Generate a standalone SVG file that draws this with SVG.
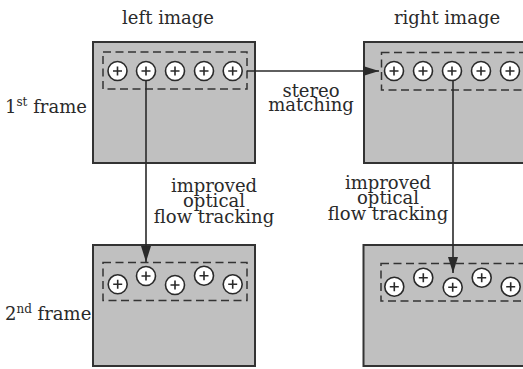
<svg xmlns="http://www.w3.org/2000/svg" width="523" height="369" viewBox="0 0 523 369">
<defs>
<style>
.box{fill:#c0c0c0;stroke:#333;stroke-width:2}
.dash{fill:none;stroke:#333;stroke-width:1.5;stroke-dasharray:8 4.5}
.pt circle{fill:#fff;stroke:#2a2a2a;stroke-width:1.6}
.pt path{stroke:#2a2a2a;stroke-width:1.6;fill:none}
.lbl{font-family:"DejaVu Serif","Liberation Serif",serif;font-size:18px;fill:#2a2a2a}
.mid{text-anchor:middle}
.conn{stroke:#2a2a2a;stroke-width:1.6;fill:none;marker-end:url(#ah)}
</style>
<marker id="ah" viewBox="0 0 16 10" refX="16" refY="5" markerWidth="16" markerHeight="10" markerUnits="userSpaceOnUse" orient="auto">
<path d="M0,0 L16,5 L0,10 Z" fill="#2a2a2a"/>
</marker>
<g id="p" class="pt"><circle r="9.5"/><path d="M-4.5,0 H4.5 M0,-4.5 V4.5"/></g>
</defs>
<rect width="523" height="369" fill="#fff"/>
<text class="lbl mid" x="168" y="24">left image</text>
<text class="lbl mid" x="447" y="24">right image</text>
<text class="lbl" x="5" y="113">1<tspan font-size="12" dy="-7">st</tspan><tspan dy="7"> frame</tspan></text>
<text class="lbl" x="5" y="320">2<tspan font-size="12" dy="-7">nd</tspan><tspan dy="7"> frame</tspan></text>
<g id="left1">
<rect class="box" x="93" y="42" width="162" height="121"/>
<rect class="dash" x="103" y="52" width="144" height="37"/>
<use href="#p" x="117.5" y="71"/><use href="#p" x="146" y="71"/><use href="#p" x="175" y="71"/><use href="#p" x="204" y="71"/><use href="#p" x="232.7" y="71"/>
</g>
<g id="right1">
<rect class="box" x="364" y="42" width="170" height="121"/>
<rect class="dash" x="381.5" y="52.5" width="145" height="37.5"/>
<use href="#p" x="394" y="71"/><use href="#p" x="423" y="71"/><use href="#p" x="452" y="71"/><use href="#p" x="481" y="71"/><use href="#p" x="510" y="71"/>
</g>
<g id="left2">
<rect class="box" x="93" y="245" width="162" height="121"/>
<rect class="dash" x="103" y="262.5" width="144" height="38"/>
<use href="#p" x="117.7" y="284.3"/><use href="#p" x="146" y="276"/><use href="#p" x="175" y="285"/><use href="#p" x="204" y="275.7"/><use href="#p" x="232.7" y="284.3"/>
</g>
<g id="right2">
<rect class="box" x="363.5" y="245" width="170" height="121"/>
<rect class="dash" x="381" y="263.5" width="145" height="37.5"/>
<use href="#p" x="394.3" y="286.7"/><use href="#p" x="423.3" y="277.7"/><use href="#p" x="452.7" y="287.3"/><use href="#p" x="481.7" y="277.7"/><use href="#p" x="510.7" y="286.7"/>
</g>
<g id="connectors">
<path class="conn" d="M146,80.5 V262"/>
<path class="conn" d="M247,71 H379"/>
<path class="conn" d="M453,80.5 V273"/>
</g>
<text class="lbl mid" x="311" y="96.5">stereo</text>
<text class="lbl mid" x="311" y="111">matching</text>
<text class="lbl mid" x="214" y="191.7">improved</text>
<text class="lbl mid" x="214" y="206.7">optical</text>
<text class="lbl mid" x="214" y="222.7">flow tracking</text>
<text class="lbl mid" x="388" y="188.5">improved</text>
<text class="lbl mid" x="388" y="204.3">optical</text>
<text class="lbl mid" x="388" y="220">flow tracking</text>
</svg>
